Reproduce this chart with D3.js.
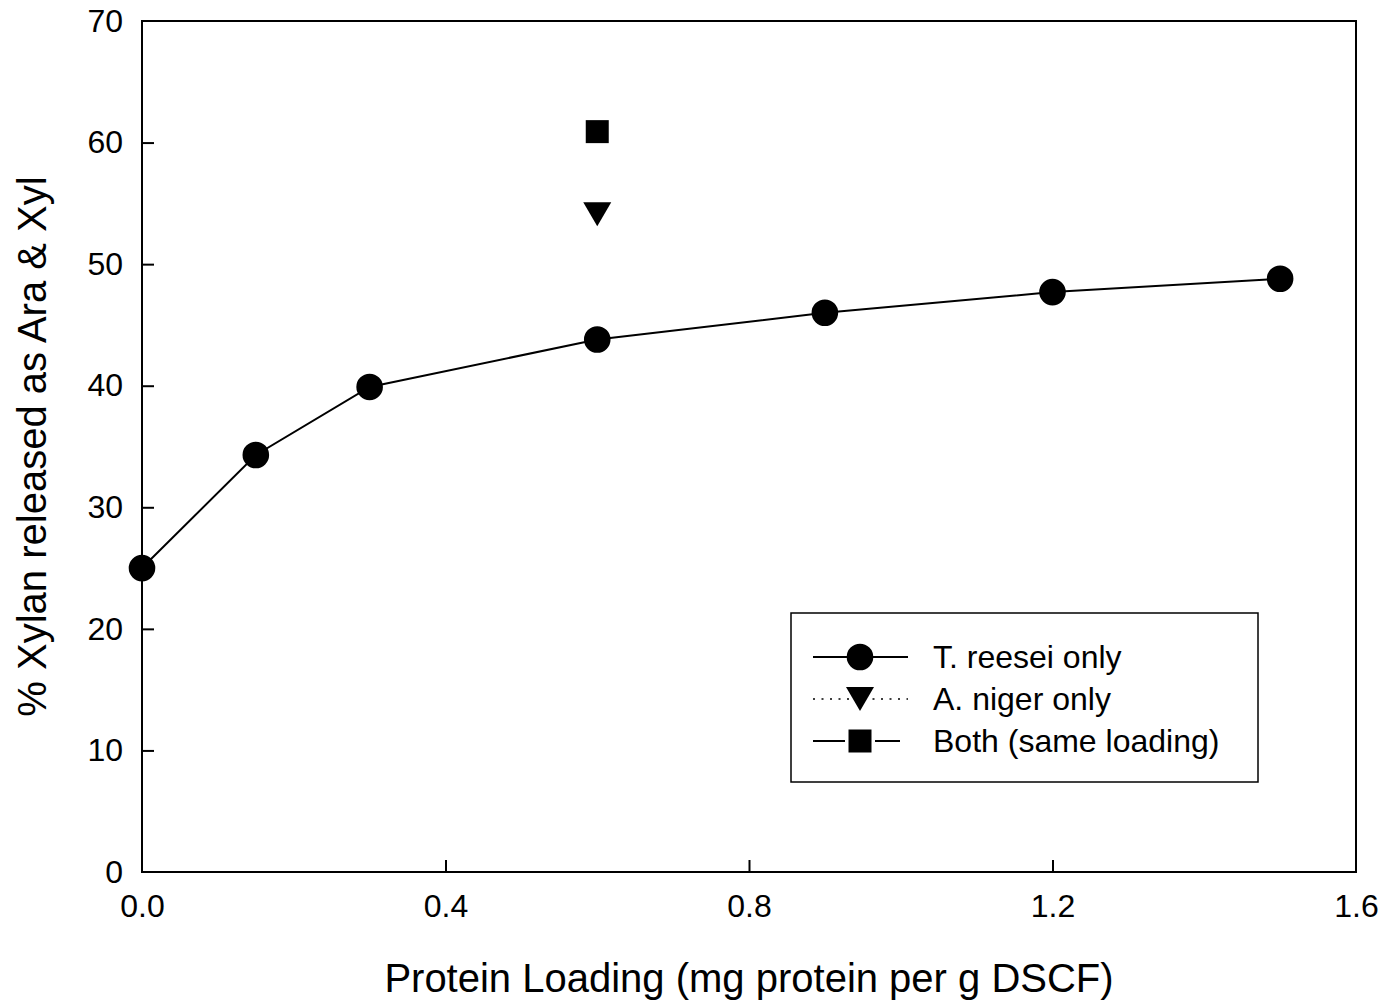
<!DOCTYPE html>
<html>
<head>
<meta charset="utf-8">
<script src="https://cdn.jsdelivr.net/npm/d3@7"></script>
<style>
  body { margin: 0; background: #fff; }
  text { font-family: "Liberation Sans", Arial, sans-serif; fill: #000; }
</style>
</head>
<body>
<script>
// data
var reeseiX = [0, 0.15, 0.3, 0.6, 0.9, 1.2, 1.5];
var reeseiY = [25.0, 34.3, 39.9, 43.8, 46.0, 47.7, 48.8];
var nigerX = [0.6];
var nigerY = [54.1];
var bothX = [0.6];
var bothY = [60.9];
var xTicks = [0, 0.4, 0.8, 1.2, 1.6];
var yTicks = [0, 10, 20, 30, 40, 50, 60, 70];
var legendLabels = ["T. reesei only", "A. niger only", "Both (same loading)"];

var margin = {top: 21, right: 29, bottom: 131, left: 142},
    width = 1385 - margin.left - margin.right,
    height = 1003 - margin.top - margin.bottom;

var x = d3.scaleLinear().domain([0, 1.6]).range([0, width]);
var y = d3.scaleLinear().domain([0, 70]).range([height, 0]);

var svg = d3.select("body").append("svg")
    .attr("width", 1385)
    .attr("height", 1003)
  .append("g")
    .attr("transform", "translate(" + margin.left + "," + margin.top + ")");

// frame
svg.append("rect")
    .attr("width", width).attr("height", height)
    .attr("fill", "none").attr("stroke", "#000").attr("stroke-width", 2);

// axes with inward ticks
var xAxis = svg.append("g")
    .attr("transform", "translate(0," + height + ")")
    .call(d3.axisBottom(x).tickValues(xTicks).tickSize(-12).tickPadding(22)
      .tickFormat(d3.format(".1f")));
var yAxis = svg.append("g")
    .call(d3.axisLeft(y).tickValues(yTicks).tickSize(-12).tickPadding(19));

[xAxis, yAxis].forEach(function(a) {
  a.attr("font-size", null).attr("font-family", null);
  a.select(".domain").remove();
  a.selectAll("line").attr("stroke", "#000").attr("stroke-width", 2);
  a.selectAll("text").style("font-size", "32px");
});
// no tick mark drawn on the corners
xAxis.selectAll(".tick").filter(function(d) { return d === 0 || d === 1.6; }).select("line").remove();
yAxis.selectAll(".tick").filter(function(d) { return d === 0 || d === 70; }).select("line").remove();

// axis titles
svg.append("text")
    .attr("x", width / 2).attr("y", height + 120)
    .attr("text-anchor", "middle")
    .style("font-size", "40px")
    .text("Protein Loading (mg protein per g DSCF)");
svg.append("text")
    .attr("transform", "translate(-96," + (height / 2) + ") rotate(-90)")
    .attr("text-anchor", "middle")
    .style("font-size", "40px")
    .text("% Xylan released as Ara & Xyl");

var reesei = reeseiX.map(function(d, i) { return [d, reeseiY[i]]; });
var niger = nigerX.map(function(d, i) { return [d, nigerY[i]]; });
var both = bothX.map(function(d, i) { return [d, bothY[i]]; });

var line = d3.line().x(function(d) { return x(d[0]); }).y(function(d) { return y(d[1]); });

svg.append("path")
    .datum(reesei)
    .attr("d", line)
    .attr("fill", "none").attr("stroke", "#000").attr("stroke-width", 2);

var circle = d3.symbol().type(d3.symbolCircle).size(Math.PI * 13.3 * 13.3);
var square = d3.symbol().type(d3.symbolSquare).size(23 * 23);
// downward triangle: width 28, height 24
function triDown(cx, cy) {
  return "M" + (cx - 14) + "," + (cy - 12) + "L" + (cx + 14) + "," + (cy - 12) + "L" + cx + "," + (cy + 12) + "Z";
}

svg.selectAll(".reesei").data(reesei).enter().append("path")
    .attr("class", "reesei")
    .attr("transform", function(d) { return "translate(" + x(d[0]) + "," + y(d[1]) + ")"; })
    .attr("d", circle);

svg.selectAll(".niger").data(niger).enter().append("path")
    .attr("class", "niger")
    .attr("d", function(d) { return triDown(x(d[0]), y(d[1])); });

svg.selectAll(".both").data(both).enter().append("path")
    .attr("class", "both")
    .attr("transform", function(d) { return "translate(" + x(d[0]) + "," + y(d[1]) + ")"; })
    .attr("d", square);

// legend
var lg = svg.append("g").attr("transform", "translate(" + (791 - margin.left) + "," + (613 - margin.top) + ")");
lg.append("rect")
    .attr("width", 467).attr("height", 169)
    .attr("fill", "#fff").attr("stroke", "#000").attr("stroke-width", 1.5);

var rows = [44, 86, 128];
var dashes = [null, "2,6.5", "32,30,25,100"];
rows.forEach(function(ry, i) {
  lg.append("line")
      .attr("x1", 22).attr("x2", 117).attr("y1", ry).attr("y2", ry)
      .attr("stroke", "#000").attr("stroke-width", i === 1 ? 1.5 : 2)
      .attr("stroke-dasharray", dashes[i]);
  if (i === 0) {
    lg.append("path").attr("transform", "translate(69," + ry + ")").attr("d", circle);
  } else if (i === 1) {
    lg.append("path").attr("d", triDown(69, ry));
  } else {
    lg.append("path").attr("transform", "translate(69," + ry + ")").attr("d", square);
  }
  lg.append("text")
      .attr("x", 142).attr("y", ry).attr("dy", "0.35em")
      .style("font-size", "32px")
      .text(legendLabels[i]);
});
</script>
</body>
</html>
